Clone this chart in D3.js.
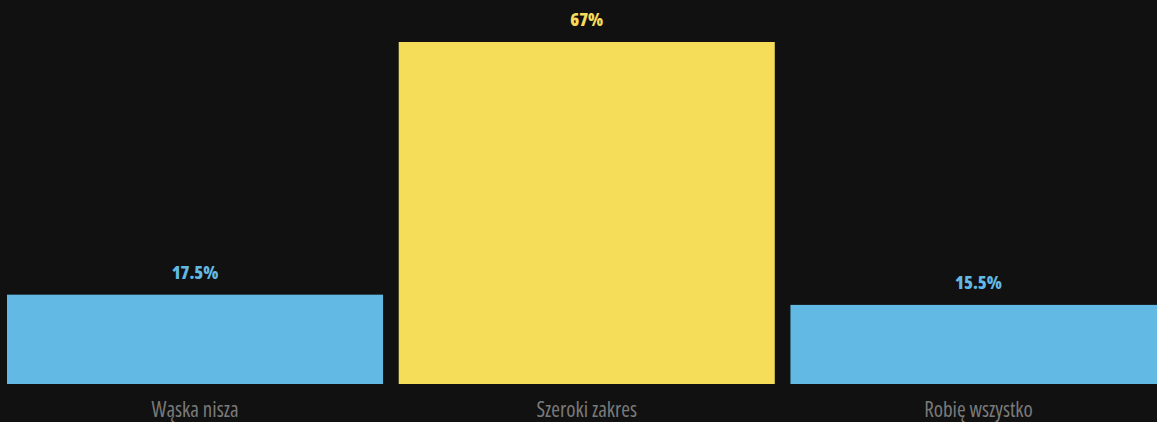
<!DOCTYPE html>
<html>
<head>
<meta charset="utf-8">
<script src="https://cdn.jsdelivr.net/npm/d3@7"></script>
<style>
  html, body { margin: 0; padding: 0; background: #111111; overflow: hidden; }
  svg { display: block; }
  .val { font-family: "Open Sans", sans-serif; font-stretch: condensed; font-weight: 800; font-size: 18px; }
  .cat { font-family: "Open Sans", sans-serif; font-stretch: condensed; font-weight: 400; font-size: 21px; fill: #7a7a7a; }
</style>
</head>
<body>
<svg id="chart" width="1157" height="422"></svg>
<script>
// Share of answers per specialisation profile
const categories = ["Wąska nisza", "Szeroki zakres", "Robię wszystko"];
const values = [17.5, 67, 15.5];
const valueLabels = ["17.5%", "67%", "15.5%"];
const barColors = ["#62b9e4", "#f5dd5a", "#62b9e4"];

const svg = d3.select("#chart");
const W = 1157, H = 422;
svg.append("rect").attr("width", W).attr("height", H).attr("fill", "#111111");

const x = d3.scaleBand()
  .domain(categories)
  .range([7, 1166.5])
  .paddingInner(0.04)
  .paddingOuter(0);

const y = d3.scaleLinear()
  .domain([0, 67])
  .range([384, 42]);

const data = categories.map((c, i) => ({ c, v: values[i], label: valueLabels[i], color: barColors[i] }));

svg.selectAll("rect.bar")
  .data(data)
  .join("rect")
  .attr("class", "bar")
  .attr("x", d => x(d.c))
  .attr("width", x.bandwidth())
  .attr("y", d => y(d.v))
  .attr("height", d => y(0) - y(d.v))
  .attr("fill", d => d.color);

svg.selectAll("text.val")
  .data(data)
  .join("text")
  .attr("class", "val")
  .attr("x", d => x(d.c) + x.bandwidth() / 2)
  .attr("y", d => y(d.v) - 16)
  .attr("text-anchor", "middle")
  .attr("fill", d => d.color)
  .text(d => d.label);

// Category axis below the bars, without domain line or ticks
const axis = svg.append("g")
  .attr("transform", `translate(0, ${y(0)})`)
  .call(d3.axisBottom(x).tickSize(0).tickPadding(0));
axis.attr("font-family", null).attr("font-size", null);
axis.select(".domain").remove();
axis.selectAll("text")
  .attr("class", "cat")
  .attr("dy", null)
  .attr("y", 33)
  .attr("fill", "#7a7a7a");
</script>
</body>
</html>
